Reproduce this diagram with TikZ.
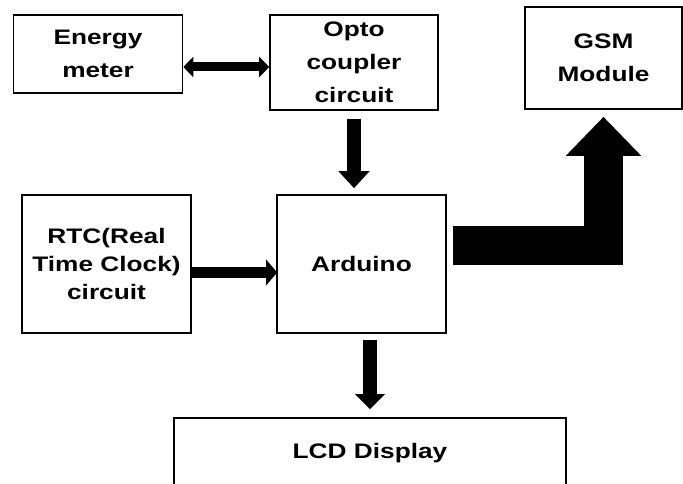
\documentclass[tikz,border=0pt]{standalone}
\usepackage{fontspec}
\newfontfamily\blockfont{Liberation Sans}[FakeStretch=1.25]
\usetikzlibrary{arrows.meta,positioning}

\begin{document}
\begin{tikzpicture}[x=1pt,y=-1pt,
 blk/.style={draw,line width=1.6pt,align=center,inner sep=0pt,
   font=\blockfont\bfseries\fontsize{21}{33}\selectfont},
 ar/.style={line width=#1,draw=black},
 ar/.default=13pt]
\useasboundingbox (0,0) rectangle (683,484);
\node[blk,minimum width=169pt,minimum height=78pt] (em) at (98,54) {Energy\\meter};
\node[blk,minimum width=168pt,minimum height=95pt] (opto) at (354,62.5) {Opto\\coupler\\circuit};
\node[blk,minimum width=157pt,minimum height=102pt] (gsm) at (603.5,58) {GSM\\Module};
\node[blk,minimum width=169pt,minimum height=138pt,
  font=\blockfont\bfseries\fontsize{21}{28}\selectfont] (rtc) at (106.5,264) {RTC(Real\\Time Clock)\\circuit};
\node[blk,minimum width=169pt,minimum height=138pt] (ard) at (361.5,264) {Arduino};
\node[blk,minimum width=392pt,minimum height=70pt] (lcd) at (370,453) {LCD Display};
\coordinate (dbl) at (0,67);
% links
\draw[ar=9pt,{Triangle[width=20pt,length=10pt]}-{Triangle[width=20pt,length=10pt]}]
  (em.east |- dbl) -- (opto.west |- dbl);
\draw[ar=14pt,-{Triangle[width=30pt,length=17pt]},shorten <=8pt,shorten >=6pt]
  (opto.south) -- (opto.south |- ard.north);
\draw[ar=11pt,-{Triangle[width=25pt,length=11pt]},shorten <=-1pt,shorten >=-1pt]
  ([yshift=-8.5pt]rtc.east) -- ([yshift=-8.5pt]ard.west);
\draw[ar=14pt,-{Triangle[width=29pt,length=15pt]},shorten <=6pt,shorten >=8pt]
  (ard.south -| lcd.north) -- (lcd.north);
\draw[ar=39pt,line join=miter,-{Triangle[width=73pt,length=39pt]},shorten <=6pt,shorten >=7pt]
  ([yshift=18.5pt]ard.east) -| (gsm.south);
\end{tikzpicture}
\end{document}
